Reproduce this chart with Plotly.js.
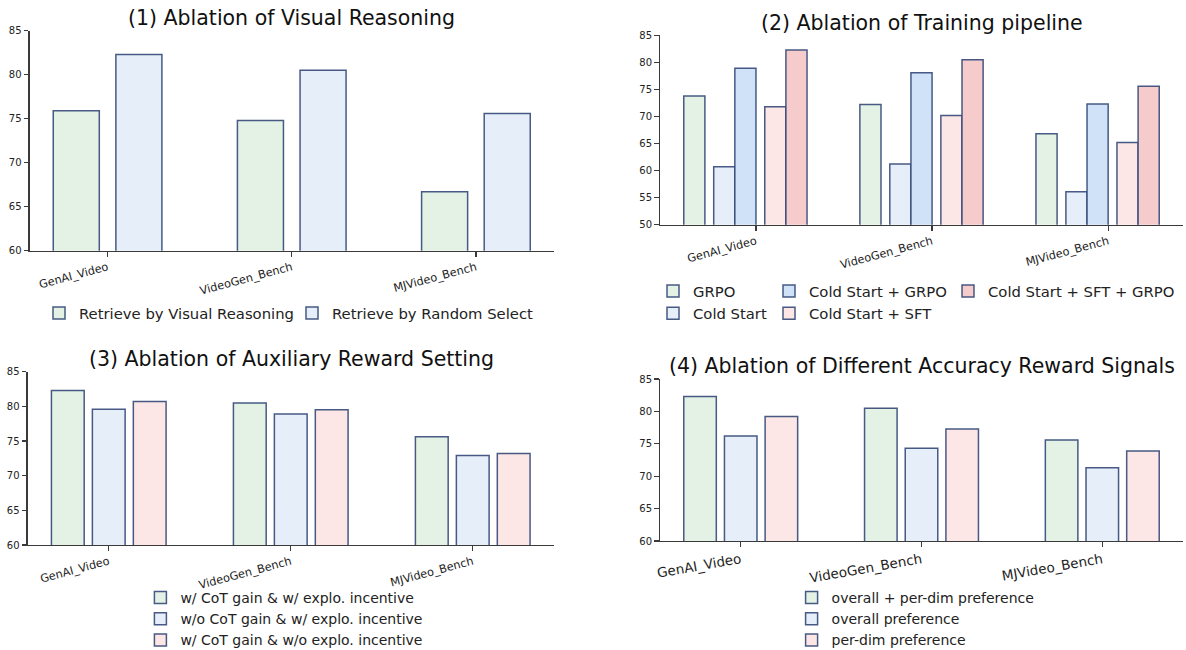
<!DOCTYPE html>
<html>
<head>
<meta charset="utf-8">
<script src="https://cdn.plot.ly/plotly-3.0.1.min.js"></script>
<style>html,body{margin:0;padding:0;background:#fff;}#chart{width:1186px;height:650px;}</style>
</head>
<body>
<div id="chart"></div>
<script>
// ---------- data ----------
const categories = ['GenAI_Video', 'VideoGen_Bench', 'MJVideo_Bench'];

const p1Names = ['Retrieve by Visual Reasoning', 'Retrieve by Random Select'];
const p1Visual = [75.9, 74.8, 66.7];
const p1Random = [82.3, 80.5, 75.6];

const p2Names = ['GRPO', 'Cold Start', 'Cold Start + GRPO', 'Cold Start + SFT', 'Cold Start + SFT + GRPO'];
const p2Grpo = [73.8, 72.2, 66.8];
const p2Cold = [60.7, 61.2, 56.1];
const p2ColdGrpo = [78.9, 78.1, 72.3];
const p2ColdSft = [71.8, 70.2, 65.2];
const p2ColdSftGrpo = [82.3, 80.5, 75.6];

const p3Names = ['w/ CoT gain & w/ explo. incentive', 'w/o CoT gain & w/ explo. incentive', 'w/ CoT gain & w/o explo. incentive'];
const p3Full = [82.3, 80.5, 75.6];
const p3NoCot = [79.6, 78.9, 72.9];
const p3NoExplo = [80.7, 79.5, 73.2];

const p4Names = ['overall + per-dim preference', 'overall preference', 'per-dim preference'];
const p4Both = [82.3, 80.5, 75.6];
const p4Overall = [76.2, 74.3, 71.3];
const p4PerDim = [79.2, 77.3, 73.9];

const titles = ['(1) Ablation of Visual Reasoning', '(2) Ablation of Training pipeline',
                '(3) Ablation of Auxiliary Reward Setting', '(4) Ablation of Different Accuracy Reward Signals'];

// ---------- styling ----------
const W = 1186, H = 650;
const FONT = 'DejaVu Sans, Verdana, sans-serif';
const EDGE = 'rgba(52,72,120,0.9)';
const C_GREEN = '#e4f2e5', C_BLUE = '#e6eef9', C_BLUE2 = '#cfe2f7', C_PINK = '#fce6e6', C_PINK2 = '#f5cbcb';
const fx = p => p / W;
const fy = p => 1 - p / H;

function bar(name, y, xa, ya, color, width, offset, legend) {
  return {
    type: 'bar', name: name, x: categories, y: y, xaxis: xa, yaxis: ya,
    width: width, offset: offset, legend: legend, hoverinfo: 'skip',
    marker: {color: color, line: {color: EDGE, width: 1.5}}
  };
}

const traces = [
  bar(p1Names[0], p1Visual, 'x', 'y', C_GREEN, 0.25, -0.295, 'legend'),
  bar(p1Names[1], p1Random, 'x', 'y', C_BLUE, 0.25, 0.045, 'legend2'),

  bar(p2Names[0], p2Grpo, 'x2', 'y2', C_GREEN, 0.12, -0.41, 'legend3'),
  bar(p2Names[1], p2Cold, 'x2', 'y2', C_BLUE, 0.12, -0.24, 'legend3'),
  bar(p2Names[2], p2ColdGrpo, 'x2', 'y2', C_BLUE2, 0.12, -0.12, 'legend4'),
  bar(p2Names[3], p2ColdSft, 'x2', 'y2', C_PINK, 0.12, 0.05, 'legend4'),
  bar(p2Names[4], p2ColdSftGrpo, 'x2', 'y2', C_PINK2, 0.12, 0.17, 'legend5'),

  bar(p3Names[0], p3Full, 'x3', 'y3', C_GREEN, 0.18, -0.315, 'legend6'),
  bar(p3Names[1], p3NoCot, 'x3', 'y3', C_BLUE, 0.18, -0.09, 'legend6'),
  bar(p3Names[2], p3NoExplo, 'x3', 'y3', C_PINK, 0.18, 0.135, 'legend6'),

  bar(p4Names[0], p4Both, 'x4', 'y4', C_GREEN, 0.18, -0.315, 'legend7'),
  bar(p4Names[1], p4Overall, 'x4', 'y4', C_BLUE, 0.18, -0.09, 'legend7'),
  bar(p4Names[2], p4PerDim, 'x4', 'y4', C_PINK, 0.18, 0.135, 'legend7')
];

function xaxis(d0, d1, anchor, range, size, angle) {
  return {
    domain: [fx(d0), fx(d1)], anchor: anchor, type: 'category', range: range,
    showline: true, linecolor: '#3a3a3a', linewidth: 1.4, mirror: false,
    ticks: 'outside', ticklen: 4.5, tickwidth: 1.2, tickcolor: '#3a3a3a',
    tickangle: angle, tickfont: {family: FONT, size: size, color: '#222'},
    showgrid: false, zeroline: false, fixedrange: true, automargin: false
  };
}
function yaxis(t, b, anchor, range) {
  return {
    domain: [fy(b), fy(t)], anchor: anchor, range: range, dtick: 5, tick0: 0,
    showline: true, linecolor: '#3a3a3a', linewidth: 1.4, mirror: false,
    ticks: 'outside', ticklen: 4.5, tickwidth: 1.2, tickcolor: '#3a3a3a',
    tickfont: {family: FONT, size: 10, color: '#222'},
    showgrid: false, zeroline: false, fixedrange: true, automargin: false
  };
}
function legend(markerCx, firstRowCy, size) {
  return {
    x: fx(markerCx - 20), xanchor: 'left', y: fy(firstRowCy - 17), yanchor: 'top',
    orientation: 'v', bgcolor: 'rgba(0,0,0,0)', borderwidth: 0, tracegroupgap: 0,
    font: {family: FONT, size: size, color: '#222'}
  };
}
function title(text, cx, cy) {
  return {text: text, x: fx(cx), y: fy(cy), xref: 'paper', yref: 'paper',
          xanchor: 'center', yanchor: 'middle', showarrow: false,
          font: {family: FONT, size: 20.5, color: '#111'}};
}

const layout = {
  width: W, height: H, margin: {l: 0, r: 0, t: 0, b: 0, pad: 0, autoexpand: false},
  paper_bgcolor: '#fff', plot_bgcolor: 'rgba(0,0,0,0)',
  barmode: 'overlay', showlegend: true,
  font: {family: FONT, color: '#222'},
  xaxis: xaxis(29.5, 554, 'y', [-0.424, 2.424], 11.3, -15),
  yaxis: yaxis(30.7, 250.7, 'x', [60, 85]),
  xaxis2: xaxis(660, 1183, 'y2', [-0.545, 2.425], 11.3, -15),
  yaxis2: yaxis(35.3, 224.7, 'x2', [50, 85]),
  xaxis3: xaxis(27.5, 554, 'y3', [-0.4465, 2.4465], 11.3, -15),
  yaxis3: yaxis(371.7, 545, 'x3', [60, 85]),
  xaxis4: xaxis(660, 1183, 'y4', [-0.4465, 2.4465], 13.5, -10),
  yaxis4: yaxis(379, 541, 'x4', [60, 85]),
  legend: legend(59, 314, 14.8),
  legend2: legend(312, 314, 14.8),
  legend3: legend(673, 292, 14.8),
  legend4: legend(789, 292, 14.8),
  legend5: legend(968, 292, 14.8),
  legend6: legend(160.4, 599, 14),
  legend7: legend(811.6, 599, 14),
  annotations: [
    title(titles[0], 291.7, 18.5),
    title(titles[1], 921.5, 23),
    title(titles[2], 291, 359.5),
    title(titles[3], 921.5, 366)
  ]
};

Plotly.newPlot('chart', traces, layout, {staticPlot: true, displayModeBar: false});
</script>
</body>
</html>
